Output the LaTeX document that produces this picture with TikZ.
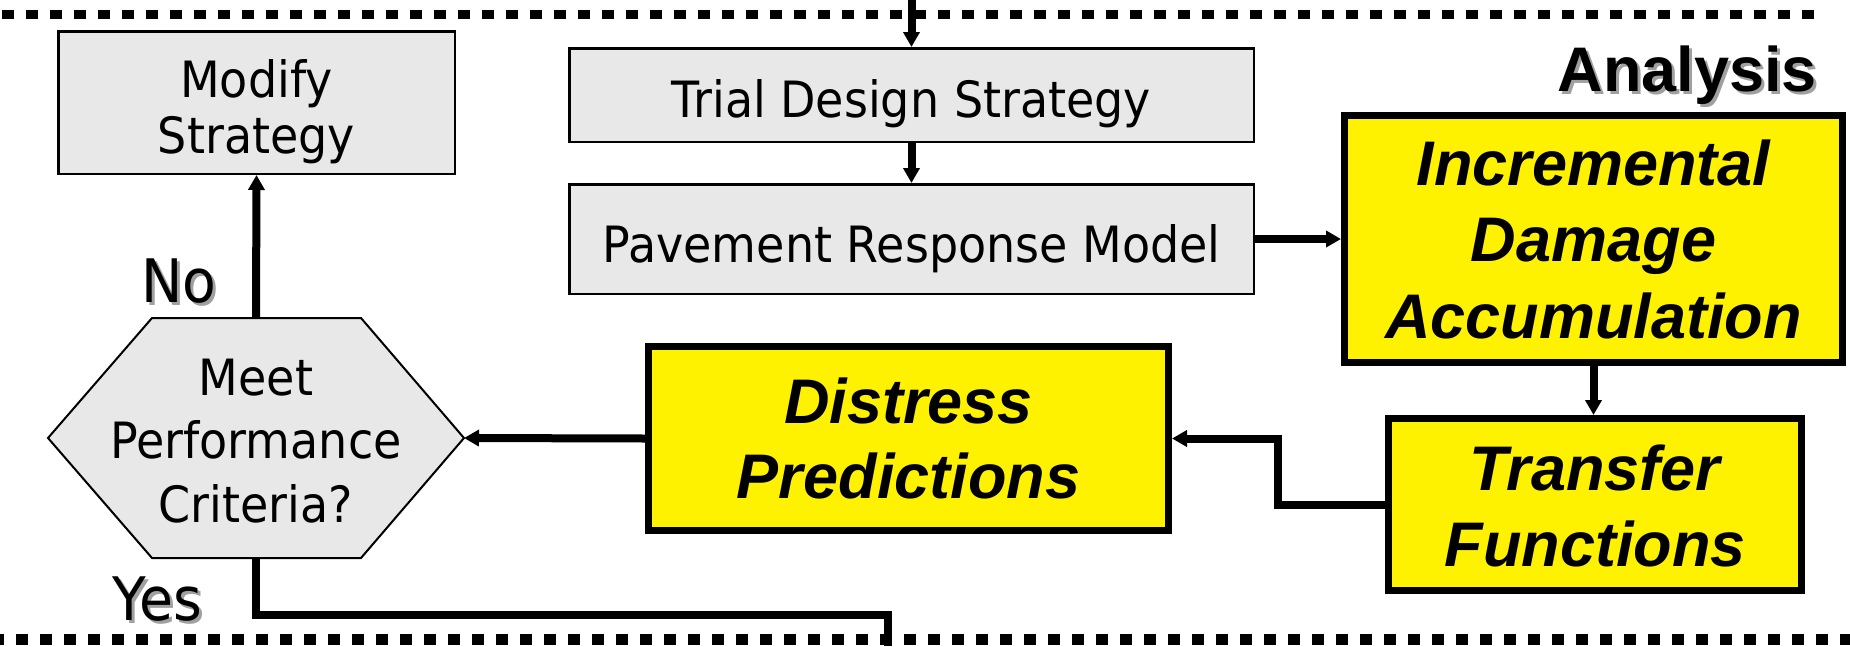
\documentclass[tikz,border=0pt]{standalone}
\usepackage{fontspec}
\usetikzlibrary{arrows.meta}
\setmainfont{DejaVu Sans}
\newfontfamily\gfont[FakeStretch=0.92]{DejaVu Sans}
\newfontfamily\yfont{Liberation Sans}
\definecolor{boxgray}{RGB}{232,232,232}
\definecolor{shadowgray}{RGB}{160,160,160}
\newcommand\shtext[1]{\makebox[0pt][l]{\hspace{3pt}\raisebox{-3pt}{\color{shadowgray}#1}}#1}
\newcommand\mlines[1]{\begin{tabular}[t]{@{}c@{}}#1\end{tabular}}
\begin{document}
\begin{tikzpicture}[x=1pt,y=-1pt,
  gbox/.style={draw=black, line width=2.5pt, fill=boxgray, inner sep=0pt, rectangle},
  ybox/.style={draw=black, line width=7pt, fill=yellow, inner sep=0pt, rectangle},
  conn/.style={line width=8pt, -{Triangle[length=15pt,width=16pt]}},
  plainconn/.style={line width=8pt},
  dashline/.style={line width=9pt, dash pattern=on 12pt off 12pt},
  gtxt/.style={anchor=base, inner sep=0pt, font=\gfont\fontsize{50}{56}\selectfont},
  htxt/.style={anchor=base, inner sep=0pt, font=\gfont\fontsize{50}{63.5}\selectfont},
  lbltxt/.style={anchor=base, inner sep=0pt, font=\gfont\fontsize{60}{70}\selectfont},
  ytxt/.style={anchor=base, inner sep=0pt, font=\yfont\bfseries\itshape\fontsize{63}{76}\selectfont},
  titletxt/.style={anchor=base east, inner sep=0pt, font=\yfont\bfseries\fontsize{63}{76}\selectfont}
]
\useasboundingbox (0,0) rectangle (1850,646);

% dashed frame lines
\coordinate (tl) at (0,14);
\coordinate (tr) at (1814,14);
\coordinate (bl) at (0,639);
\coordinate (br) at (1850,639);
\draw[dashline, dash phase=22pt] (tl) -- (tr);
\draw[dashline, line width=11pt, dash phase=8pt] (bl) -- (br);

% boxes
\node[gbox, minimum width=396.5pt, minimum height=142.5pt] (mod) at (256.5,102.5) {};
\node[gbox, minimum width=684.5pt, minimum height=93.5pt] (trial) at (911.5,95) {};
\node[gbox, minimum width=684.5pt, minimum height=109.5pt] (pave) at (911.5,239) {};
\node[ybox, minimum width=498pt, minimum height=247pt] (inc) at (1593.5,239) {};
\node[ybox, minimum width=413pt, minimum height=172pt] (tf) at (1595,504.5) {};
\node[ybox, minimum width=520pt, minimum height=184pt] (dist) at (908.5,438.5) {};
\node[minimum width=416pt, minimum height=240pt, inner sep=0pt, outer sep=0pt] (hex) at (256,438) {};
\draw[line width=2pt, fill=boxgray] (hex.west) -- ([xshift=104pt]hex.north west) -- ([xshift=-103pt]hex.north east)
  -- (hex.east) -- ([xshift=-103pt]hex.south east) -- ([xshift=104pt]hex.south west) -- cycle;

% texts
\node[gtxt] (modT) at (256.5,97) {\mlines{Modify\\Strategy}};
\node[gtxt] (trialT) at (911.5,117) {Trial Design Strategy};
\node[gtxt] (paveT) at (911.5,262) {Pavement Response Model};
\node[htxt] (meetT) at (256,395) {\mlines{Meet\\Performance\\Criteria?}};
\node[lbltxt] (noT) at (179,302) {\shtext{No}};
\node[lbltxt] (yesT) at (157.5,620) {\shtext{Yes}};
\node[titletxt] (anaT) at (1817,91) {\shtext{Analysis}};
\node[ytxt, font=\yfont\bfseries\itshape\fontsize{63}{76.5}\selectfont] (incT) at (1593.5,185) {\mlines{Incremental\\Damage\\Accumulation}};
\node[ytxt, font=\yfont\bfseries\itshape\fontsize{63}{75}\selectfont] (distT) at (908.5,423) {\mlines{Distress\\Predictions}};
\node[ytxt] (tfT) at (1595,490) {\mlines{Transfer\\Functions}};

% connectors
\coordinate (topin) at (911.5,0);
\coordinate (yesbend) at (888,615);
\coordinate (yesout) at (888,646);
\draw[conn] (topin) -- (trial.north);
\draw[conn] (trial.south) -- (pave.north);
\draw[conn] (pave.east) -- (inc.west);
\draw[conn] (inc.south) -- (inc.south |- tf.north);
\draw[conn] (tf.west) -- ++(-107,0) |- (dist.east);
\draw[conn] (dist.west) -- (hex.east);
\draw[conn] (hex.north) -- (mod.south);
\draw[plainconn] (hex.south) |- (yesbend) -- (yesout);
\end{tikzpicture}
\end{document}
